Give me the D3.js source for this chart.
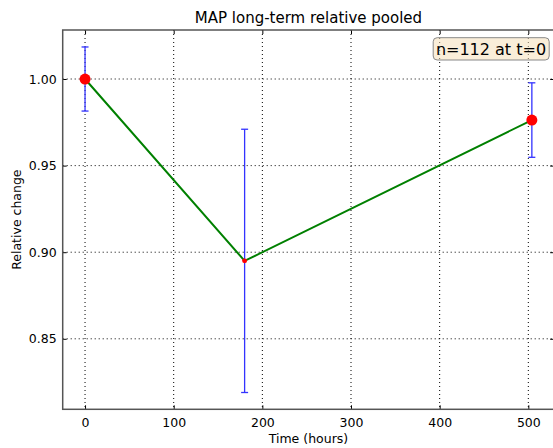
<!DOCTYPE html>
<html>
<head>
<meta charset="utf-8">
<script src="https://cdn.jsdelivr.net/npm/d3@7"></script>
<style>
  body { margin: 0; background: #fff; }
  svg { display: block; font-family: "DejaVu Sans", sans-serif; }
</style>
</head>
<body>
<svg id="chart" width="553" height="448"></svg>
<script>
const hours = [0, 180, 504]
const relChange = [1.000, 0.895, 0.9763]
const errors = [0.0185, 0.076, 0.0215]
const counts = [112, 23, 112]
const xTicks = [0, 100, 200, 300, 400, 500]
const yTicks = [0.85, 0.90, 0.95, 1.00]
const titleText = "MAP long-term relative pooled"
const boxText = "n=112 at t=0"

function drawChart() {
    const margins = { top: 30, bottom: 38.7, left: 62.7, right: -1.2 }
    const svg = d3.select("#chart")
    const W = 553, H = 448
    const width = W - margins.left - margins.right
    const height = H - margins.top - margins.bottom

    const x = d3.scaleLinear().domain([-25.2, 529.2]).range([0, width])
    const y = d3.scaleLinear().domain([0.8093, 1.0283]).range([height, 0])
    const r = d3.scaleSqrt().domain([0, 112]).range([0, 5.5])

    const g = svg.append("g")
        .attr("transform", "translate(" + margins.left + "," + margins.top + ")")

    // dotted grid
    g.selectAll(".vgrid").data(xTicks).enter().append("line")
        .attr("x1", d => x(d)).attr("x2", d => x(d))
        .attr("y1", 0).attr("y2", height)
        .attr("stroke", "#000").attr("stroke-width", 1)
        .attr("stroke-dasharray", "1,3")
    g.selectAll(".hgrid").data(yTicks).enter().append("line")
        .attr("x1", 0).attr("x2", width)
        .attr("y1", d => y(d)).attr("y2", d => y(d))
        .attr("stroke", "#000").attr("stroke-width", 1)
        .attr("stroke-dasharray", "1,3")

    // axes with inward ticks
    const xAxis = d3.axisBottom(x).tickValues(xTicks).tickFormat(d3.format("d"))
        .tickSizeInner(-4).tickSizeOuter(0).tickPadding(9)
    const yAxis = d3.axisLeft(y).tickValues(yTicks).tickFormat(d3.format(".2f"))
        .tickSizeInner(-4).tickSizeOuter(0).tickPadding(6)

    const gx = g.append("g").attr("transform", "translate(0," + height + ")").call(xAxis)
    const gy = g.append("g").call(yAxis)
    g.append("g").call(d3.axisTop(x).tickValues(xTicks).tickFormat("").tickSizeInner(-4).tickSizeOuter(0))
    g.append("g").attr("transform", "translate(" + width + ",0)")
        .call(d3.axisRight(y).tickValues(yTicks).tickFormat("").tickSizeInner(-4).tickSizeOuter(0))

    g.selectAll(".domain").remove()
    g.selectAll(".tick line").attr("stroke", "#000")
    gx.selectAll("text").attr("font-size", "12.5px").attr("fill", "#000")
        .attr("font-family", "DejaVu Sans, sans-serif")
    gy.selectAll("text").attr("font-size", "12.5px").attr("fill", "#000")
        .attr("font-family", "DejaVu Sans, sans-serif")

    // spines
    g.append("rect")
        .attr("x", 0).attr("y", 0).attr("width", width).attr("height", height)
        .attr("fill", "none").attr("stroke", "#555").attr("stroke-width", 1.5)

    // error bars
    const data = hours.map((h, i) => ({ h: h, v: relChange[i], e: errors[i], n: counts[i] }))
    const eb = g.selectAll(".eb").data(data).enter().append("g")
        .attr("stroke", "#3333ff").attr("stroke-width", 1.3)
    eb.append("line")
        .attr("x1", d => x(d.h)).attr("x2", d => x(d.h))
        .attr("y1", d => y(d.v - d.e)).attr("y2", d => y(d.v + d.e))
    eb.append("line")
        .attr("x1", d => x(d.h) - 3.5).attr("x2", d => x(d.h) + 3.5)
        .attr("y1", d => y(d.v - d.e)).attr("y2", d => y(d.v - d.e))
    eb.append("line")
        .attr("x1", d => x(d.h) - 3.5).attr("x2", d => x(d.h) + 3.5)
        .attr("y1", d => y(d.v + d.e)).attr("y2", d => y(d.v + d.e))

    // line
    const line = d3.line().x(d => x(d.h)).y(d => y(d.v))
    g.append("path")
        .attr("d", line(data))
        .attr("fill", "none").attr("stroke", "#008000").attr("stroke-width", 2)

    // markers
    g.selectAll(".pt").data(data).enter().append("circle")
        .attr("cx", d => x(d.h)).attr("cy", d => y(d.v))
        .attr("r", d => r(d.n))
        .attr("fill", "#ff0000")

    // annotation box
    const bx = g.append("g")
    const bt = bx.append("text")
        .attr("x", 428.3).attr("y", 24.5)
        .attr("text-anchor", "middle")
        .attr("font-size", "16px").attr("fill", "#000")
        .text(boxText)
    bx.insert("rect", "text")
        .attr("x", 370.5).attr("y", 7.7)
        .attr("width", 116).attr("height", 22.3)
        .attr("rx", 4).attr("ry", 4)
        .attr("fill", "#f5deb3").attr("fill-opacity", 0.5)
        .attr("stroke", "#888").attr("stroke-width", 1)

    // labels
    svg.append("text")
        .attr("x", margins.left + width / 2).attr("y", 23)
        .attr("text-anchor", "middle").attr("font-size", "15px")
        .text(titleText)
    svg.append("text")
        .attr("x", margins.left + width / 2).attr("y", 443)
        .attr("text-anchor", "middle").attr("font-size", "12.5px")
        .text("Time (hours)")
    svg.append("text")
        .attr("transform", "translate(21," + (margins.top + height / 2) + ") rotate(-90)")
        .attr("text-anchor", "middle").attr("font-size", "12.5px")
        .text("Relative change")
}

drawChart()
</script>
</body>
</html>
